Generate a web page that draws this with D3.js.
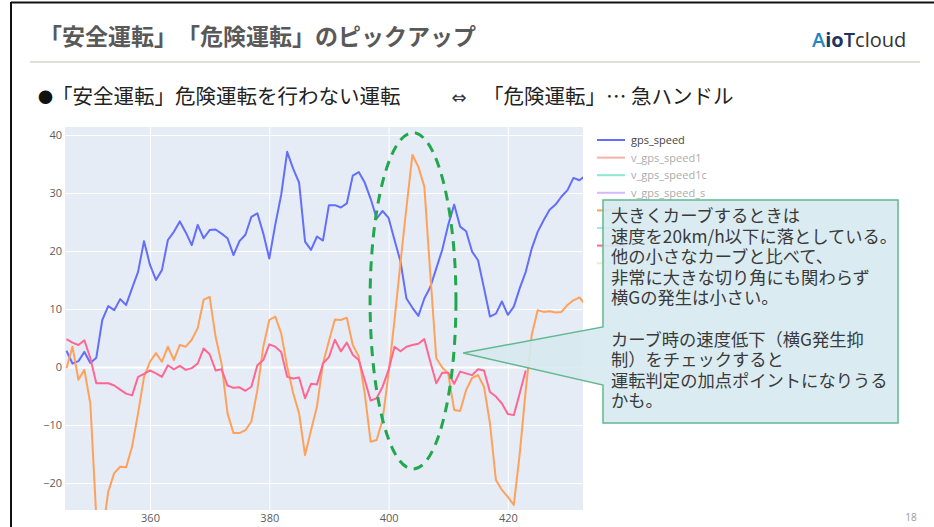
<!DOCTYPE html>
<html>
<head>
<meta charset="utf-8">
<script src="https://cdn.jsdelivr.net/npm/d3@7"></script>
<style>
  body { margin: 0; background: #fff; }
  svg { display: block; }
  text { text-spacing-trim: space-all; }
</style>
</head>
<body>
<svg id="slide" width="934" height="527"></svg>
<script>
// time index (one sample per step)
const xStart = 346, xEnd = 433;
const xs = d3.range(xStart, xEnd + 1);

// gps_speed
const gpsSpeed = [2.8, 0.6, 1.0, 2.6, 0.7, 1.6, 8.1, 10.5, 9.8, 11.7,
  10.7, 13.6, 16.4, 21.7, 17.6, 15.0, 16.7, 21.9, 23.3, 25.1,
  23.2, 21.0, 24.5, 22.2, 23.6, 23.7, 23.0, 22.2, 19.3, 21.7,
  22.8, 25.9, 26.5, 23.0, 18.7, 24.5, 29.7, 37.1, 34.2, 31.8,
  21.6, 20.2, 22.5, 21.8, 27.9, 27.9, 27.5, 28.2, 33.0, 33.6,
  31.8, 29.0, 25.6, 26.9, 25.7, 21.9, 18.2, 11.8, 10.2, 8.8,
  11.8, 13.8, 17.0, 20.2, 24.5, 28.0, 24.2, 23.4, 19.9, 18.4,
  13.6, 8.7, 9.2, 11.3, 9.0, 10.4, 13.6, 16.4, 20.4, 23.3,
  25.3, 27.1, 28.0, 29.4, 30.5, 32.6, 32.2, 33.0];

// orange trace (5th legend entry)
const orangeSeries = [-0.2, 3.5, -2.2, -0.5, -6.3, -26, -29, -21.5, -18.3, -17.2,
  -17.3, -13.7, -8.0, -1.7, 0.9, 2.4, 0.9, 3.5, 1.2, 3.8,
  3.5, 4.7, 6.7, 11.6, 12.1, 5.2, 0.6, -8.0, -11.4, -11.4,
  -10.9, -9.4, -4.0, 3.5, 8.1, 8.7, 5.8, 0.1, -4.5, -8.0,
  -15.2, -10.9, -6.8, 0.6, 4.5, 8.2, 8.1, 8.5, 3.8, 1.8,
  -4.5, -12.9, -12.6, -9.1, -1.1, 8.1, 18, 27.5, 36.6, 34.5,
  31.1, 16, 1.5, -0.1, -1.1, -7.4, -7.6, -4.0, -1.9, -1.4,
  -3.4, -9.7, -19.5, -21.2, -22.4, -23.8, -14.9, -4.0, 5.5, 9.8,
  9.5, 9.6, 9.4, 9.5, 10.7, 11.5, 12.0, 10.7];

// pink trace (7th legend entry), ends earlier
const pinkSeries = [4.8, 4.2, 3.8, 4.6, 1.5, -2.8, -2.8, -2.8, -3.2, -3.9,
  -4.6, -4.9, -1.7, -1.2, -0.6, -1.1, -1.7, 0.3, -0.4, 0.2,
  -0.5, -0.2, 0.6, 3.2, 2.2, -0.6, -0.4, -3.2, -3.6, -3.5,
  -4.1, -3.4, 0.3, 1.2, 3.9, 3.5, 2.6, -1.7, -2.0, -1.8,
  -5.4, -2.9, -3.0, 0.6, 1.7, 4.7, 2.7, 4.2, 2.1, 1.2,
  -2.2, -5.8, -5.4, -3.4, -0.5, 3.5, 2.7, 3.5, 3.8, 4.0,
  4.8, 0.9, -2.8, -1.0, -1.0, -2.9, -0.8, -1.1, -1.4, -0.4,
  -0.6, -4.3, -5.1, -6.3, -8.1, -8.3, -4.5, -0.6];

const xTicks = [360, 380, 400, 420];
const yTicks = [-20, -10, 0, 10, 20, 30, 40];

// legend entries (plotly default colours), hidden ones are legendonly.
// entries 5-8 sit under the callout, only their line stubs show
const legendNames = ["gps_speed", "v_gps_speed1", "v_gps_speed1c", "v_gps_speed_s",
  "", "", "", ""];
const legendColors = ["#636efa", "#EF553B", "#00cc96", "#ab63fa",
  "#FFA15A", "#19d3f3", "#FF6692", "#B6E880"];
const legendShown = [true, false, false, false, true, false, true, false];

const calloutLines = ["大きくカーブするときは", "速度を20km/h以下に落としている。",
  "他の小さなカーブと比べて、", "非常に大きな切り角にも関わらず", "横Gの発生は小さい。", "",
  "カーブ時の速度低下（横G発生抑", "制）をチェックすると", "運転判定の加点ポイントになりうる", "かも。"];

const jp = "'Noto Sans CJK JP', 'Noto Sans', sans-serif";
const svg = d3.select("#slide");

// slide frame
svg.append("line").attr("x1", 11).attr("x2", 934).attr("y1", 2.5).attr("y2", 2.5)
  .attr("stroke", "#111").attr("stroke-width", 2);
svg.append("line").attr("x1", 11).attr("x2", 11).attr("y1", 2).attr("y2", 527)
  .attr("stroke", "#111").attr("stroke-width", 2);

// title + rule
svg.append("text").attr("x", 39).attr("y", 45)
  .text("「安全運転」「危険運転」のピックアップ")
  .style("font-family", jp).style("font-size", "23px").style("font-weight", "bold")
  .attr("fill", "#595959");
svg.append("line").attr("x1", 30).attr("x2", 920).attr("y1", 62).attr("y2", 62)
  .attr("stroke", "#d6d4ca").attr("stroke-width", 1.5);

// logo
let grad = svg.append("defs").append("linearGradient").attr("id", "logoA")
  .attr("x1", "0").attr("x2", "1").attr("y1", "0").attr("y2", "1");
grad.append("stop").attr("offset", "0%").attr("stop-color", "#1f6fc0");
grad.append("stop").attr("offset", "100%").attr("stop-color", "#2bb7c9");
let logo = svg.append("text").attr("x", 812).attr("y", 47)
  .style("font-family", "'Open Sans', sans-serif").style("font-size", "20px");
logo.append("tspan").text("A").attr("fill", "url(#logoA)").style("font-weight", "600");
logo.append("tspan").text("io").attr("fill", "#1c3461").style("font-weight", "700");
logo.append("tspan").text("T").attr("fill", "#1c3461").style("font-weight", "600");
logo.append("tspan").text("cloud").attr("fill", "#333").style("font-weight", "400");

// bullet line
svg.append("text").attr("x", 38).attr("y", 103).text("●")
  .style("font-family", jp).style("font-size", "15px").attr("fill", "#111");
svg.append("text").attr("x", 52).attr("y", 104).text("「安全運転」危険運転を行わない運転")
  .style("font-family", jp).style("font-size", "20.5px").attr("fill", "#222");
svg.append("text").attr("x", 459).attr("y", 104).text("⇔").attr("text-anchor", "middle")
  .style("font-family", "'DejaVu Sans', sans-serif").style("font-size", "18px").attr("fill", "#333");
svg.append("text").attr("x", 483).attr("y", 104).text("「危険運転」… 急ハンドル")
  .style("font-family", jp).style("font-size", "20.5px").attr("fill", "#222");

// chart area
const plot = {left: 65, right: 583, top: 127, bottom: 510};
const x = d3.scaleLinear().domain([345.75, 432.6]).range([plot.left, plot.right]);
const y = d3.scaleLinear().domain([-24.66, 41.38]).range([plot.bottom, plot.top]);

svg.append("rect").attr("x", plot.left).attr("y", plot.top)
  .attr("width", plot.right - plot.left).attr("height", plot.bottom - plot.top)
  .attr("fill", "#E5ECF6");

svg.append("clipPath").attr("id", "plotClip").append("rect")
  .attr("x", plot.left).attr("y", plot.top)
  .attr("width", plot.right - plot.left).attr("height", plot.bottom - plot.top);

// grid via axes
let yGrid = svg.append("g").attr("transform", `translate(${plot.left},0)`)
  .call(d3.axisLeft(y).tickValues(yTicks).tickSize(-(plot.right - plot.left)).tickFormat(""));
yGrid.select(".domain").remove();
yGrid.selectAll("line").attr("stroke", "#fff").attr("stroke-width", d => d === 0 ? 2 : 1);

let xGrid = svg.append("g").attr("transform", `translate(0,${plot.bottom})`)
  .call(d3.axisBottom(x).tickValues(xTicks).tickSize(-(plot.bottom - plot.top)).tickFormat(""));
xGrid.select(".domain").remove();
xGrid.selectAll("line").attr("stroke", "#fff").attr("stroke-width", 1);

// tick labels
let yAxis = svg.append("g").attr("transform", `translate(${plot.left},0)`)
  .call(d3.axisLeft(y).tickValues(yTicks).tickSize(0).tickPadding(3)
    .tickFormat(d => d < 0 ? "\u2212" + Math.abs(d) : d));
let xAxis = svg.append("g").attr("transform", `translate(0,${plot.bottom})`)
  .call(d3.axisBottom(x).tickValues(xTicks).tickSize(0).tickPadding(4));
[xAxis, yAxis].forEach(a => {
  a.select(".domain").remove();
  a.selectAll("text").attr("fill", "#5c5c5c")
    .style("font-family", "'Open Sans', sans-serif").style("font-size", "11px");
});

// lines
const line = d3.line().x(d => x(d[0])).y(d => y(d[1]));
const lines = svg.append("g").attr("clip-path", "url(#plotClip)");
const traces = [
  {vals: gpsSpeed, color: "#636efa"},
  {vals: orangeSeries, color: "#FFA15A"},
  {vals: pinkSeries, color: "#FF6692"}
];
traces.forEach(t => {
  lines.append("path")
    .datum(t.vals.map((v, i) => [xs[i], v]))
    .attr("d", line)
    .attr("fill", "none").attr("stroke", t.color)
    .attr("stroke-width", 2).attr("stroke-linejoin", "round");
});

// legend
let legend = svg.append("g").attr("transform", "translate(597,140)");
legendNames.forEach((name, i) => {
  let item = legend.append("g").attr("transform", `translate(0,${i * 17.6})`)
    .attr("opacity", legendShown[i] ? 1 : 0.45);
  item.append("line").attr("x1", 0).attr("x2", 28).attr("y1", 0).attr("y2", 0)
    .attr("stroke", legendColors[i]).attr("stroke-width", 2);
  if (name) {
    item.append("text").attr("x", 34).attr("y", 4).text(name)
      .style("font-family", "'Open Sans', sans-serif").style("font-size", "11px")
      .attr("fill", "#444");
  }
});

// dashed ellipse round the big curve
svg.append("ellipse")
  .attr("cx", x(404.1)).attr("cy", y(11.4))
  .attr("rx", x(404.1 + 7.2) - x(404.1)).attr("ry", y(11.4 - 29) - y(11.4))
  .attr("fill", "none").attr("stroke", "#22a84c").attr("stroke-width", 3)
  .attr("stroke-dasharray", "10,7");

// callout
const box = {left: 603, right: 898, top: 200, bottom: 423, tipTop: 327, tipBottom: 385};
const tip = [x(412.5), y(2.4)];
const calloutPath = d3.path();
calloutPath.moveTo(box.left, box.top);
calloutPath.lineTo(box.right, box.top);
calloutPath.lineTo(box.right, box.bottom);
calloutPath.lineTo(box.left, box.bottom);
calloutPath.lineTo(box.left, box.tipBottom);
calloutPath.lineTo(tip[0], tip[1]);
calloutPath.lineTo(box.left, box.tipTop);
calloutPath.closePath();
svg.append("path").attr("d", calloutPath.toString())
  .attr("fill", "#d6eaef").attr("fill-opacity", 0.9)
  .attr("stroke", "#62b88f").attr("stroke-width", 1.5);

let note = svg.append("text").attr("x", 611).attr("y", 222)
  .style("font-family", jp).style("font-size", "17.3px").attr("fill", "#3a3a3a");
calloutLines.forEach((t, i) => {
  note.append("tspan").attr("x", 611).attr("y", 222 + i * 20.6).text(t);
});

// page number
svg.append("text").attr("x", 911).attr("y", 521).attr("text-anchor", "middle").text("18")
  .style("font-family", "'Open Sans', sans-serif").style("font-size", "10px").attr("fill", "#9a9a9a");
</script>
</body>
</html>
